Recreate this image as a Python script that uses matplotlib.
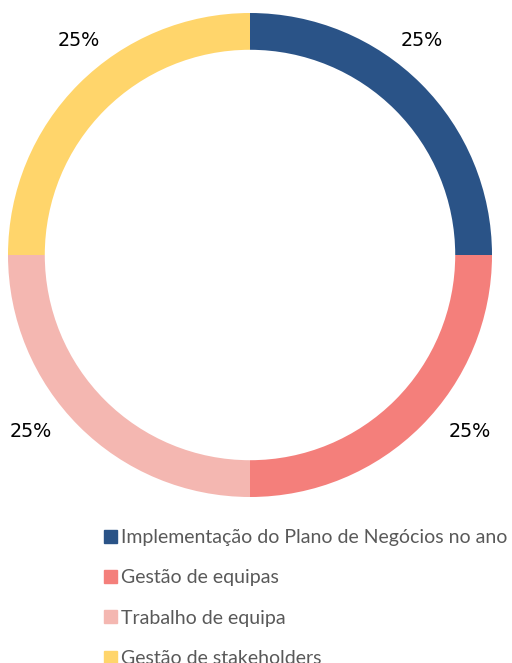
import matplotlib
matplotlib.use("Agg")
import matplotlib.pyplot as plt
import numpy as np

categories = ["Implementação do Plano de Negócios no ano", "Gestão de equipas",
              "Trabalho de equipa", "Gestão de stakeholders"]
values = [25, 25, 25, 25]
colors = ["#2A5387", "#F47F7B", "#F4B7B1", "#FFD56B"]

W, H = 512, 663
fig = plt.figure(figsize=(W / 100, H / 100), dpi=100)
cx, cy, R = 250, 255, 242
ax = fig.add_axes([(cx - R) / W, (H - cy - R) / H, 2 * R / W, 2 * R / H])
wedges, _ = ax.pie(values, colors=colors, startangle=90, counterclock=False,
                   radius=1.0, wedgeprops=dict(width=0.152, edgecolor="none"))
ax.set_xlim(-1, 1)
ax.set_ylim(-1, 1)
ax.set_aspect("equal")
ax.axis("off")

total = sum(values)
for w, v in zip(wedges, values):
    mid = (w.theta1 + w.theta2) / 2
    # shift labels slightly toward the vertical axis like the reference
    shift = 7 if np.cos(np.radians(mid)) > 0 else -7
    a = np.radians(mid + shift)
    r = 1.15
    ax.text(r * np.cos(a), r * np.sin(a) - 0.02, f"{v / total * 100:.0f}%",
            ha="center", va="center", fontsize=13.8, color="#000000",
            family="DejaVu Sans", clip_on=False)

handles = [plt.Rectangle((0, 0), 1, 1, color=c) for c in colors]
leg = fig.legend(handles, categories, loc="upper left",
                 bbox_to_anchor=(104 / W, 1 - 529 / H), frameon=False,
                 prop={"family": "Lato", "size": 14}, labelcolor="#595959",
                 handlelength=0.65, handleheight=0.65, handletextpad=0.2,
                 labelspacing=1.2, borderaxespad=0, borderpad=0)

fig.savefig("out.png", dpi=100)
